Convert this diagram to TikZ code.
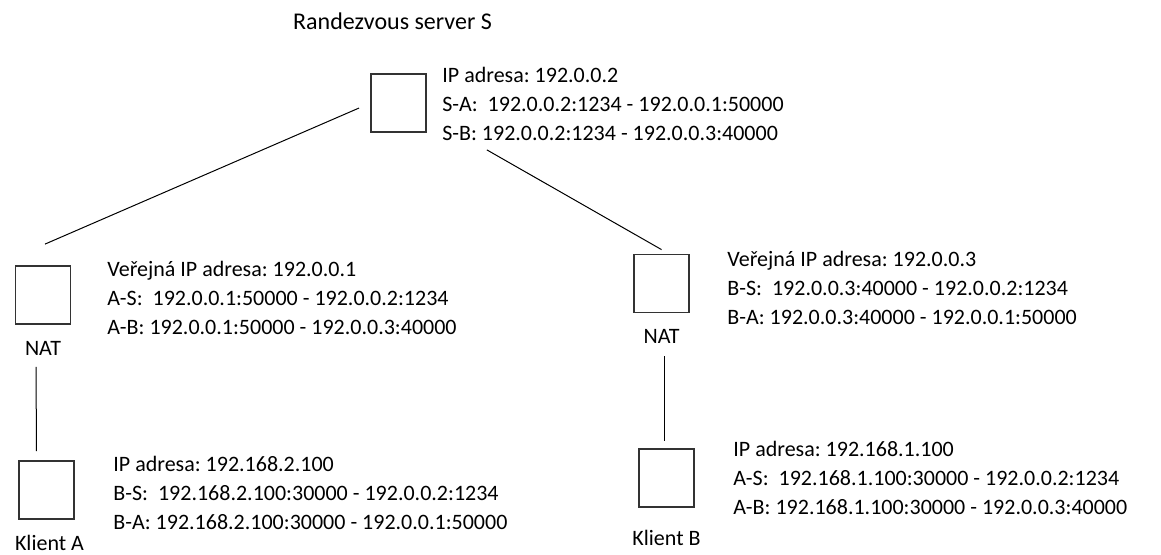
\documentclass[tikz,border=0pt]{standalone}
\usepackage{fontspec}
\setmainfont{Carlito}
\usetikzlibrary{positioning}
\tikzset{
    device/.style={draw=black!80, line width=0.9pt, minimum width=27.5pt, minimum height=29pt, inner sep=0pt},
    info/.style={anchor=north west, align=left, inner sep=0pt, font=\fontsize{11}{14.5}\selectfont},
    tag/.style={inner sep=0pt, font=\fontsize{11}{14.5}\selectfont},
    link/.style={draw=black, line width=0.5pt}
}
\begin{document}
\frenchspacing
\begin{tikzpicture}[x=0.5pt, y=-0.5pt]
    \useasboundingbox (0, 0) rectangle (1161, 555);
    % server
    \node[device] (srv) at (398.5, 103) {};
    \node[tag, font=\fontsize{12}{14.5}\selectfont, above=21.5pt of srv, xshift=-3pt] (srvlbl) {Randezvous server S};
    \node[info] (srvinfo) at (442, 67) {IP adresa: 192.0.0.2\\S-A:\ \ 192.0.0.2:1234 - 192.0.0.1:50000\\S-B: 192.0.0.2:1234 - 192.0.0.3:40000};
    % NAT A
    \node[device] (natA) at (43, 295) {};
    \node[tag, below=8pt of natA] (natAlbl) {NAT};
    \node[info] (natAinfo) at (107, 261) {Veřejná IP adresa: 192.0.0.1\\A-S:\ \ 192.0.0.1:50000 - 192.0.0.2:1234\\A-B: 192.0.0.1:50000 - 192.0.0.3:40000};
    % NAT B
    \node[device] (natB) at (661.5, 283.5) {};
    \node[tag, below=8pt of natB] (natBlbl) {NAT};
    \node[info] (natBinfo) at (727, 251) {Veřejná IP adresa: 192.0.0.3\\B-S:\ \ 192.0.0.3:40000 - 192.0.0.2:1234\\B-A: 192.0.0.3:40000 - 192.0.0.1:50000};
    % Klient A
    \node[device] (cliA) at (46.5, 490) {};
    \node[tag, below=7.5pt of cliA, xshift=1.5pt] (cliAlbl) {Klient A};
    \node[info] (cliAinfo) at (113, 456) {IP adresa: 192.168.2.100\\B-S:\ \ 192.168.2.100:30000 - 192.0.0.2:1234\\B-A: 192.168.2.100:30000 - 192.0.0.1:50000};
    % Klient B
    \node[device] (cliB) at (666.5, 478) {};
    \node[tag, below=11pt of cliB] (cliBlbl) {Klient B};
    \node[info] (cliBinfo) at (733, 441) {IP adresa: 192.168.1.100\\A-S:\ \ 192.168.1.100:30000 - 192.0.0.2:1234\\A-B: 192.168.1.100:30000 - 192.0.0.3:40000};
    % spojeni
    \draw[link] ([shift={(-11, 5)}]srv.west) -- ([shift={(2, -21)}]natA.north);
    \draw[link] ([shift={(60, 17)}]srv.south east) -- ([shift={(0, -4)}]natB.north);
    \draw[link] ([shift={(-7, 42)}]natA.south) -- ([shift={(-10, -9)}]cliA.north);
    \draw[link] ([shift={(2.5, 43)}]natB.south) -- ([shift={(-2.5, -7)}]cliB.north);
\end{tikzpicture}
\end{document}
